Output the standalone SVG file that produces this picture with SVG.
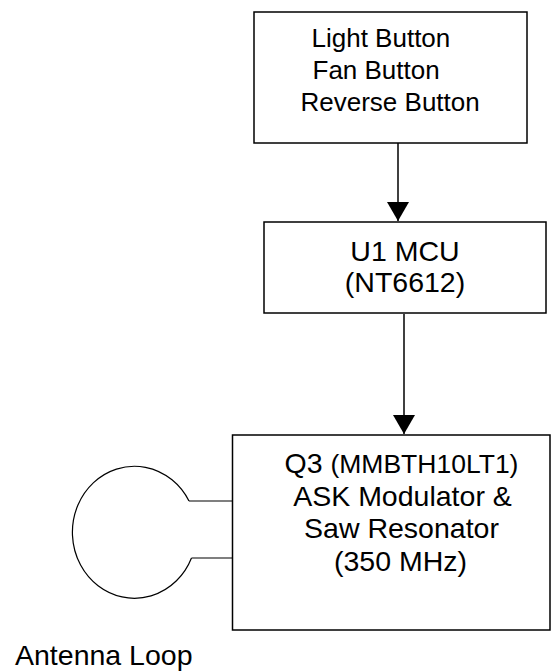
<svg xmlns="http://www.w3.org/2000/svg" width="552" height="671" viewBox="0 0 552 671">
<style>
.box{fill:#fff;stroke:#000;stroke-width:1.5}
.t{font-family:"Liberation Sans",Arial,sans-serif;fill:#000}
.c{stroke:#000;stroke-width:1.5;fill:none}
.w{stroke:#000;stroke-width:1.2;fill:none}
</style>
<defs>
<marker id="ah" markerUnits="userSpaceOnUse" markerWidth="22" markerHeight="24" refX="19" refY="11" orient="auto">
<path d="M0,0 L19,11 L0,22 Z" fill="#000"/>
</marker>
</defs>
<rect width="552" height="671" fill="#fff"/>
<g id="connectors">
<line class="c" x1="398" y1="143" x2="398" y2="221" marker-end="url(#ah)"/>
<line class="c" x1="404" y1="314" x2="404" y2="434" marker-end="url(#ah)"/>
</g>
<g id="buttons">
<rect class="box" x="254" y="12" width="273" height="131"/>
<text class="t" font-size="26" x="311.5" y="47">Light Button</text>
<text class="t" font-size="26" x="312.5" y="79">Fan Button</text>
<text class="t" font-size="26" x="300.5" y="110.5">Reverse Button</text>
</g>
<g id="mcu">
<rect class="box" x="264" y="222" width="282" height="91"/>
<text class="t" font-size="28.5" text-anchor="middle" x="405" y="260.5">U1 MCU</text>
<text class="t" font-size="28.5" text-anchor="middle" x="405" y="292">(NT6612)</text>
</g>
<g id="modulator">
<rect class="box" x="232.5" y="435" width="317.5" height="195"/>
<text class="t" font-size="28.5" text-anchor="middle" x="401.5" y="473">Q3 <tspan font-size="26.5">(MMBTH10LT1)</tspan></text>
<text class="t" font-size="28.5" text-anchor="middle" x="402.5" y="505.5">ASK Modulator &amp;</text>
<text class="t" font-size="28.5" text-anchor="middle" x="401.5" y="538">Saw Resonator</text>
<text class="t" font-size="28.5" text-anchor="middle" x="400.5" y="570.5">(350 MHz)</text>
</g>
<g id="antenna">
<path class="w" d="M189,501 A62 66 0 1 0 191.5,558"/>
<line class="w" x1="189" y1="501" x2="232.5" y2="501"/>
<line class="w" x1="191.5" y1="558" x2="232.5" y2="558"/>
<text class="t" font-size="28.5" x="15" y="664.5">Antenna Loop</text>
</g>
</svg>
